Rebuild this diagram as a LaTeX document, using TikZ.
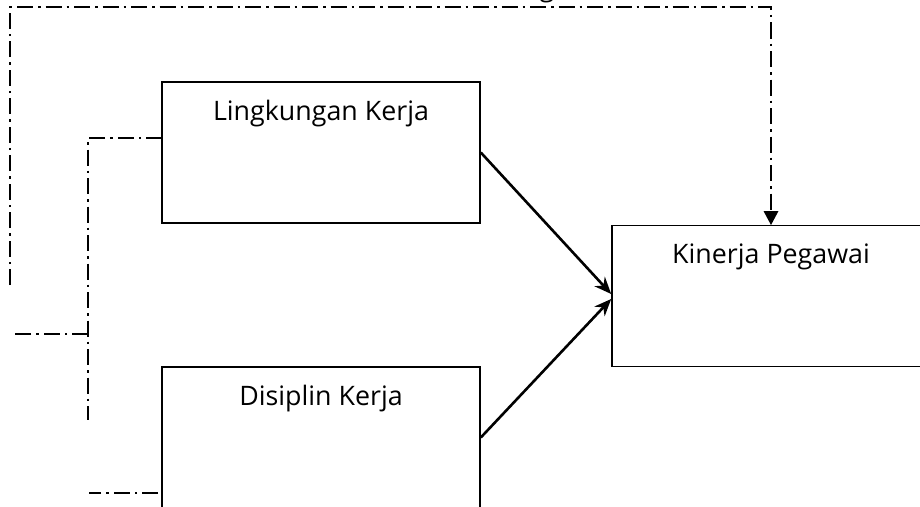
\documentclass[tikz,border=0pt]{standalone}
\usepackage{fontspec}
\setmainfont{Open Sans}
\usetikzlibrary{arrows.meta,positioning}

\tikzset{
  box/.style={draw, line width=1.6pt, minimum width=318pt, minimum height=141pt, inner sep=0pt},
  boxtitle/.style={inner sep=0pt, font=\fontsize{26.8}{31}\selectfont},
  dashdot/.style={line width=2.8pt, dash pattern=on 16pt off 5pt on 2.5pt off 5pt},
  link/.style={line width=2.6pt, -{Stealth[length=17pt,width=14pt]}}
}

\begin{document}
\begin{tikzpicture}[x=1pt, y=-1pt]
 \useasboundingbox (0,0) rectangle (920,506);

 % boxes
 \node[box] (lk) at (321,152.5) {};
 \node[box] (kp) at (771,296) {};
 \node[box] (dk) at (321,437.5) {};

 \node[boxtitle, below=19pt of lk.north] (lktitle) {Lingkungan Kerja};
 \node[boxtitle, below=19pt of kp.north] (kptitle) {Kinerja Pegawai};
 \node[boxtitle, below=19pt of dk.north] (dktitle) {Disiplin Kerja};

 % cut off label above the top line
 \node[boxtitle, anchor=base] (toptext) at (547,-3.5) {g};

 % solid arrows
 \draw[link] (lk.east) -- ([yshift=2pt]kp.west);
 \draw[link] (dk.east) -- ([yshift=-3pt]kp.west);

 % dash-dot lines
 \coordinate (loopstart) at (10,285);
 \coordinate (lkin) at (162,138);
 \coordinate (dkin) at (158,493);
 \coordinate (midtop) at (88,138);
 \coordinate (midbot) at (88,420);
 \coordinate (midjoin) at (88,334);
 \coordinate (leftend) at (12,334);
 \coordinate (lowend) at (89,493);

 \draw[dashdot] (loopstart) -- (10,7) -- (kp.north |- 0,7)
   -- ([yshift=-0.5pt]kp.north) [-{Triangle[length=14pt,width=14pt]}];
 \draw[dashdot] (lkin) -- (midtop) -- (midbot);
 \draw[dashdot] (midjoin) -- (leftend);
 \draw[dashdot] (dkin) -- (lowend);
\end{tikzpicture}
\end{document}
